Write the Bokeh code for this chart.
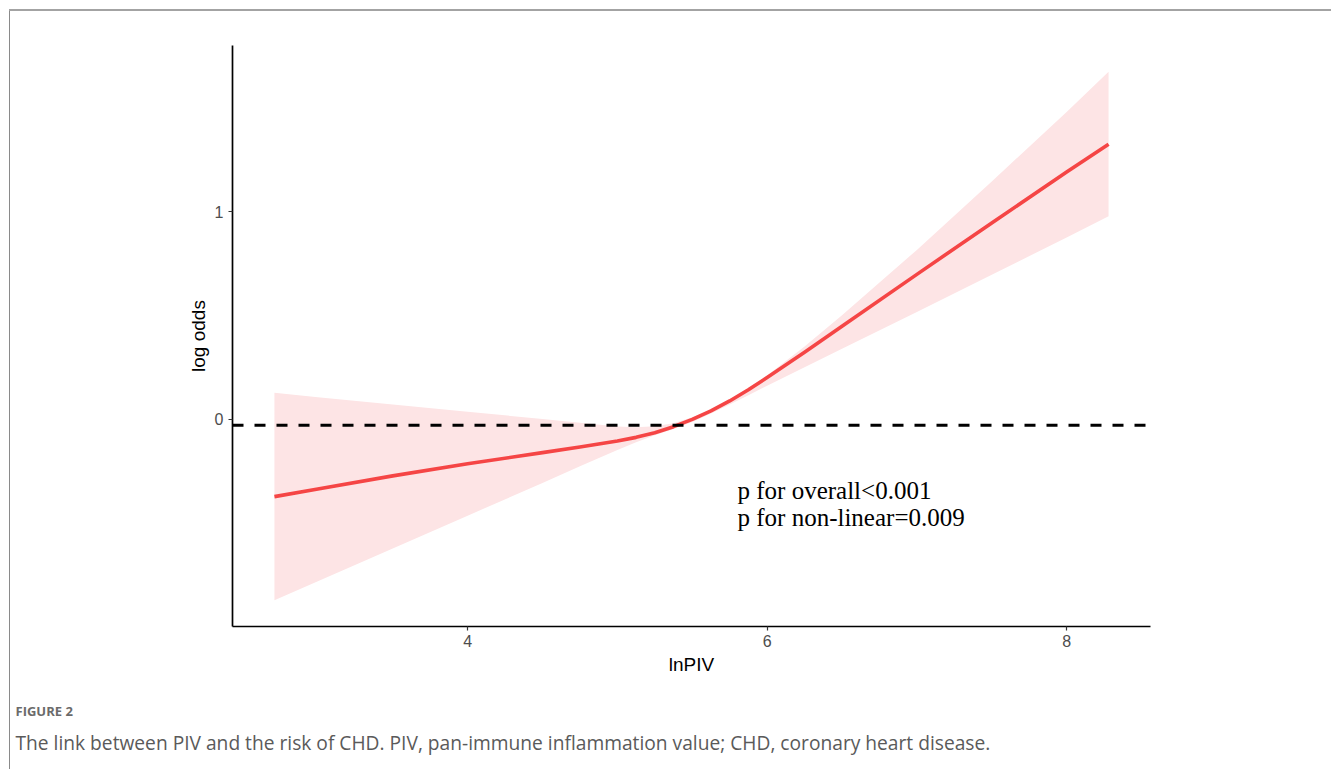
from bokeh.plotting import figure
from bokeh.models import Range1d, Span, Label, FixedTicker, ColumnDataSource, Title
from bokeh.embed import file_html
from bokeh.resources import INLINE

# ---- data ----
ln_piv = [2.71, 3.0, 3.5, 4.0, 4.5, 4.75, 5.0, 5.125, 5.25, 5.375, 5.5, 5.625, 5.75, 5.875,
          6.0, 6.25, 6.5, 7.0, 7.5, 8.0, 8.28]
log_odds = [-0.374, -0.337, -0.274, -0.216, -0.162, -0.135, -0.106, -0.0885, -0.066, -0.037,
            -0.002, 0.039, 0.087, 0.141, 0.200, 0.322, 0.447, 0.697, 0.945, 1.190, 1.324]
upper_ci = [0.126, 0.105, 0.070, 0.035, 0.000, -0.018, -0.036, -0.040, -0.035, -0.020,
            0.008, 0.045, 0.095, 0.150, 0.210, 0.350, 0.500, 0.815, 1.145, 1.480, 1.673]
lower_ci = [-0.874, -0.782, -0.624, -0.466, -0.308, -0.228, -0.149, -0.112, -0.078, -0.048,
            -0.014, 0.027, 0.070, 0.115, 0.160, 0.250, 0.338, 0.516, 0.695, 0.875, 0.977]
ref_line = -0.03
x_ticks = [4, 6, 8]
y_ticks = [0, 1]
annot_lines = ["p for overall<0.001", "p for non-linear=0.009"]
fig_label = "FIGURE 2"
caption = "The link between PIV and the risk of CHD. PIV, pan-immune inflammation value; CHD, coronary heart disease."

W, H = 1331, 769
FL, FR, FT, FB = 232, 1150, 45, 626          # frame edges in pixels
X0, X1, Y0, Y1 = 2.43, 8.56, -1.0, 1.80       # axis ranges

def px2x(px):
    return X0 + (px - FL) * (X1 - X0) / (FR - FL)

def py2y(py):
    return Y0 + (FB - py) * (Y1 - Y0) / (FB - FT)

p = figure(width=W, height=H, output_backend="svg", toolbar_location=None,
           x_range=Range1d(X0, X1), y_range=Range1d(Y0, Y1),
           min_border_left=FL, min_border_right=W - FR, min_border_top=FT, min_border_bottom=H - FB)
p.outline_line_color = None
p.xgrid.visible = False
p.ygrid.visible = False
p.background_fill_color = "white"
p.border_fill_alpha = 0
# page frame lines (top and left) drawn as the element's background
p.styles = {
    "background-color": "white",
    "background-image": "linear-gradient(#a3a3a3, #a3a3a3), linear-gradient(#8a8a8a, #8a8a8a)",
    "background-size": "100% 2px, 1px 100%",
    "background-position": "9px 9px, 9px 9px",
    "background-repeat": "no-repeat",
}

src = ColumnDataSource(dict(x=ln_piv, y=log_odds, lo=lower_ci, hi=upper_ci))
p.varea(x="x", y1="lo", y2="hi", source=src, fill_color="#FDE4E5", fill_alpha=1.0)
p.add_layout(Span(location=ref_line, dimension="width", line_color="black",
                  line_width=2.8, line_dash="11 11"))
p.line(x="x", y="y", source=src, line_color="#F54545", line_width=3.6, line_join="round")

for ax in (p.xaxis[0], p.yaxis[0]):
    ax.axis_line_color = "black"
    ax.axis_line_width = 1.7
    ax.major_tick_line_color = "#333333"
    ax.major_tick_line_width = 1.2
    ax.major_tick_out = 4
    ax.major_tick_in = 0
    ax.minor_tick_line_color = None
    ax.major_label_text_color = "#4d4d4d"
    ax.major_label_text_font = "Liberation Sans"
    ax.major_label_text_font_size = "16px"
    ax.axis_label_text_font = "Liberation Sans"
    ax.axis_label_text_font_size = "19px"
    ax.axis_label_text_font_style = "normal"
    ax.axis_label_text_color = "black"

p.xaxis[0].ticker = FixedTicker(ticks=x_ticks)
p.yaxis[0].ticker = FixedTicker(ticks=y_ticks)
p.xaxis[0].axis_label = "lnPIV"
p.yaxis[0].axis_label = "log odds"
p.xaxis[0].major_label_standoff = 4
p.yaxis[0].major_label_standoff = 5
p.xaxis[0].axis_label_standoff = 4
p.yaxis[0].axis_label_standoff = 3

for i, t in enumerate(annot_lines):
    p.add_layout(Label(x=px2x(737), y=py2y(490 + 27 * i), text=t, text_font="Liberation Serif",
                       text_font_size="25px", text_color="black", text_baseline="alphabetic"))

p.add_layout(Title(text=fig_label, align="left", offset=15 - FL, standoff=44,
                   text_font="Open Sans", text_font_style="bold", text_font_size="13px",
                   text_color="#6a6a6a"), "below")
p.add_layout(Title(text=caption, align="left", offset=15 - FL, standoff=-29,
                   text_font="Open Sans", text_font_style="normal", text_font_size="19.2px",
                   text_color="#5a5a5a"), "below")

open("out.html", "w").write(file_html(p, INLINE))
